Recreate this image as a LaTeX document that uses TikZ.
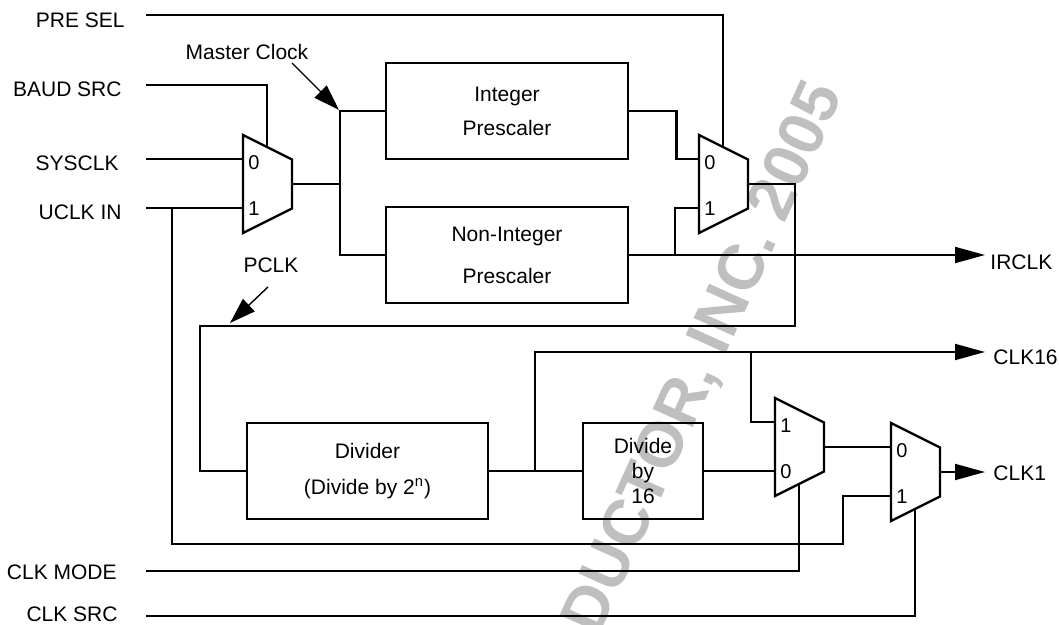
\documentclass[tikz,border=0pt]{standalone}
\usepackage{fontspec}
\setmainfont{Liberation Sans}
\usetikzlibrary{arrows.meta}

% multiplexer: name, x, y (top left corner), top label, bottom label
\newcommand{\muxbox}[5]{%
  \draw[muxline] (#2,#3) -- ++(49,24.5) -- ++(0,49) -- ++(-49,24.5) -- cycle;
  \coordinate (#1-a) at (#2,#3+24);
  \coordinate (#1-b) at (#2,#3+73);
  \coordinate (#1-out) at (#2+49,#3+49);
  \coordinate (#1-top) at (#2+24,#3+12);
  \coordinate (#1-bot) at (#2+24,#3+86);
  \node[pinlabel] (#1-la) at (#2+11,#3+28) {#4};
  \node[pinlabel] (#1-lb) at (#2+11,#3+74) {#5};
}

\begin{document}
\begin{tikzpicture}[
    x=0.5pt, y=-0.5pt,
    font=\fontsize{10.5}{12.6}\selectfont,
    wire/.style={line width=1.35pt},
    muxline/.style={line width=1.2pt, line join=miter},
    outwire/.style={line width=0.9pt, -{Triangle[length=15pt, width=8pt]}},
    pointer/.style={line width=0.7pt, -{Triangle[length=13pt, width=8.5pt]}},
    block/.style={rectangle, draw, line width=1.35pt, inner sep=0pt, minimum height=48pt, align=center},
    sig/.style={inner sep=0pt},
    pinlabel/.style={inner sep=0pt, font=\fontsize{10}{11}\selectfont},
    watermark/.style={inner sep=0pt, text=black!25, font=\fontsize{32}{36}\selectfont\bfseries},
]
    \useasboundingbox (0,0) rectangle (1059,625);

    % Watermark
    \node[watermark, rotate=65.7] (wm) at (705,359) {DUCTOR, INC. 2005};

    % Input labels
    \node[sig, anchor=east] (preL) at (125,20) {PRE SEL};
    \node[sig, anchor=east] (baudL) at (122,89) {BAUD SRC};
    \node[sig, anchor=east] (sysL) at (119,163) {SYSCLK};
    \node[sig, anchor=east] (uclkL) at (122,212) {UCLK IN};
    \node[sig, anchor=east] (modeL) at (117,572) {CLK MODE};
    \node[sig, anchor=east] (srcL) at (118,614) {CLK SRC};
    \coordinate (pre) at (146,15);
    \coordinate (baud) at (146,85);
    \coordinate (sys) at (146,159);
    \coordinate (uclk) at (146,208);
    \coordinate (mode) at (146,571);
    \coordinate (src) at (146,616);

    % Multiplexers
    \muxbox{m1}{243}{135}{0}{1}
    \muxbox{m2}{699}{135}{0}{1}
    \muxbox{m3}{775}{398}{1}{0}
    \muxbox{m4}{891}{423}{0}{1}

    % Prescalers and dividers
    \node[block, minimum width=121pt] (intp) at (507,111) {Integer\\[4.4pt]Prescaler};
    \node[block, minimum width=121pt] (nintp) at (507,255) {Non-Integer\\[8.4pt]Prescaler};
    \node[block, minimum width=120.5pt] (div) at (367.5,471) {Divider\\[5.4pt](Divide by 2\textsuperscript{n})};
    \node[block, minimum width=60pt] (div16) at (643,471) {Divide\\by\\16};

    % Outputs
    \coordinate (irclk) at (985,255);
    \coordinate (clk16) at (985,352);
    \coordinate (clk1) at (985,472);
    \node[sig, anchor=west] (irclkL) at (990,262) {IRCLK};
    \node[sig, anchor=west] (clk16L) at (993,357) {CLK16};
    \node[sig, anchor=west] (clk1L) at (993,473) {CLK1};

    % Junctions
    \coordinate (mc) at (340,184);
    \coordinate (uj) at (172,208);
    \coordinate (uk) at (843,544);
    \coordinate (nj) at (675,255);
    \coordinate (pc1) at (795,326);
    \coordinate (pc2) at (200,326);
    \coordinate (dj) at (535,471);
    \coordinate (cj) at (751,352);

    % Clock notes
    \node[sig] (mclkL) at (247,52) {Master Clock};
    \node[sig] (pclkL) at (271,265) {PCLK};
    \coordinate (mclkT) at (292,63);
    \coordinate (mclkH) at (339,110);
    \coordinate (pclkT) at (268,287);
    \coordinate (pclkH) at (230,323);
    \draw[pointer] (mclkT) -- (mclkH);
    \draw[pointer] (pclkT) -- (pclkH);

    % Wires
    \draw[wire] (pre) -| (m2-top);
    \draw[wire] (baud) -| (m1-top);
    \draw[wire] (sys) -- (m1-a);
    \draw[wire] (uclk) -- (m1-b);
    \draw[wire] (uj) |- (uk) |- (m4-b);
    \draw[wire] (m1-out) -- (mc);
    \draw[wire] (intp.west) -| (mc) |- (nintp.west);
    \draw[wire] (intp.east) -- ++(47,0) |- (m2-a);
    \draw[outwire] (nintp.east) -- (irclk);
    \draw[wire] (nj) |- (m2-b);
    \draw[wire] (m2-out) -| (pc1) -- (pc2) |- (div.west);
    \draw[wire] (div.east) -- (div16.west);
    \draw[outwire] (dj) |- (clk16);
    \draw[wire] (cj) |- (m3-a);
    \draw[wire] (div16.east) -- (m3-b);
    \draw[wire] (m3-out) -- (m4-a);
    \draw[outwire] (m4-out) -- (clk1);
    \draw[wire] (mode) -| (m3-bot);
    \draw[wire] (src) -| (m4-bot);
\end{tikzpicture}
\end{document}
